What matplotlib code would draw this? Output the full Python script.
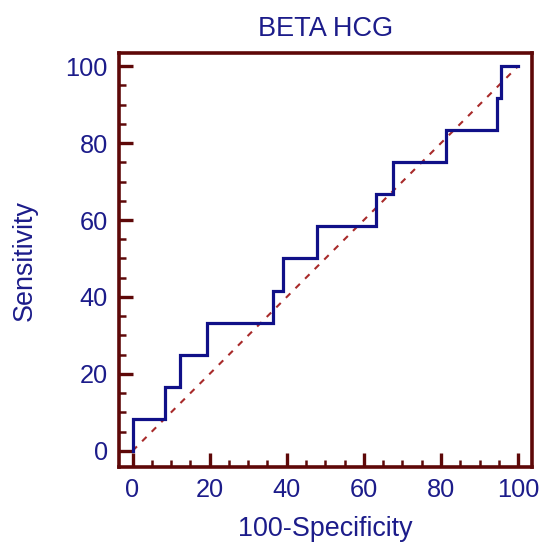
import matplotlib
matplotlib.use("Agg")
import matplotlib.pyplot as plt
from matplotlib.ticker import MultipleLocator

# ROC curve points (100-Specificity, Sensitivity)
fpr = [0, 0, 8.3, 8.3, 12.2, 12.2, 19.4, 19.4, 36.3, 36.3, 38.9, 38.9,
       47.9, 47.9, 63.2, 63.2, 67.6, 67.6, 81.3, 81.3, 94.6, 94.6, 95.6, 95.6, 100]
sens = [0, 8.33, 8.33, 16.67, 16.67, 25.0, 25.0, 33.33, 33.33, 41.67, 41.67, 50.0,
        50.0, 58.33, 58.33, 66.67, 66.67, 75.0, 75.0, 83.33, 83.33, 91.67, 91.67, 100, 100]
diag = [0, 100]

frame = "#5e0808"
navy = "#1c1c8a"
plt.rcParams["font.family"] = ["Liberation Sans", "DejaVu Sans"]

fig = plt.figure(figsize=(5.42, 5.45), dpi=100)
ax = fig.add_axes([0.2196, 0.1431, 0.762, 0.7596])

ax.plot(diag, diag, color="#a82a2a", lw=1.5, ls=(0, (3, 3.5)))
ax.plot(fpr, sens, color="#101088", lw=2.3, solid_joinstyle="miter")

ax.set_xlim(-3.5, 103.6)
ax.set_ylim(-4.2, 103.4)
ax.xaxis.set_major_locator(MultipleLocator(20))
ax.yaxis.set_major_locator(MultipleLocator(20))
ax.xaxis.set_minor_locator(MultipleLocator(5))
ax.yaxis.set_minor_locator(MultipleLocator(5))

for s in ax.spines.values():
    s.set_color(frame)
    s.set_linewidth(2.6)
ax.tick_params(which="major", direction="in", length=10, width=2.4, color=frame,
               labelcolor=navy, labelsize=18.3, pad=8)
ax.tick_params(which="minor", direction="in", length=5, width=1.8, color=frame)

ax.set_title("BETA HCG", color=navy, fontsize=19.5, pad=12)
ax.set_xlabel("100-Specificity", color=navy, fontsize=19.4, labelpad=10)
ax.set_ylabel("Sensitivity", color=navy, fontsize=19.4, labelpad=20)

fig.savefig("out.png", dpi=100)
